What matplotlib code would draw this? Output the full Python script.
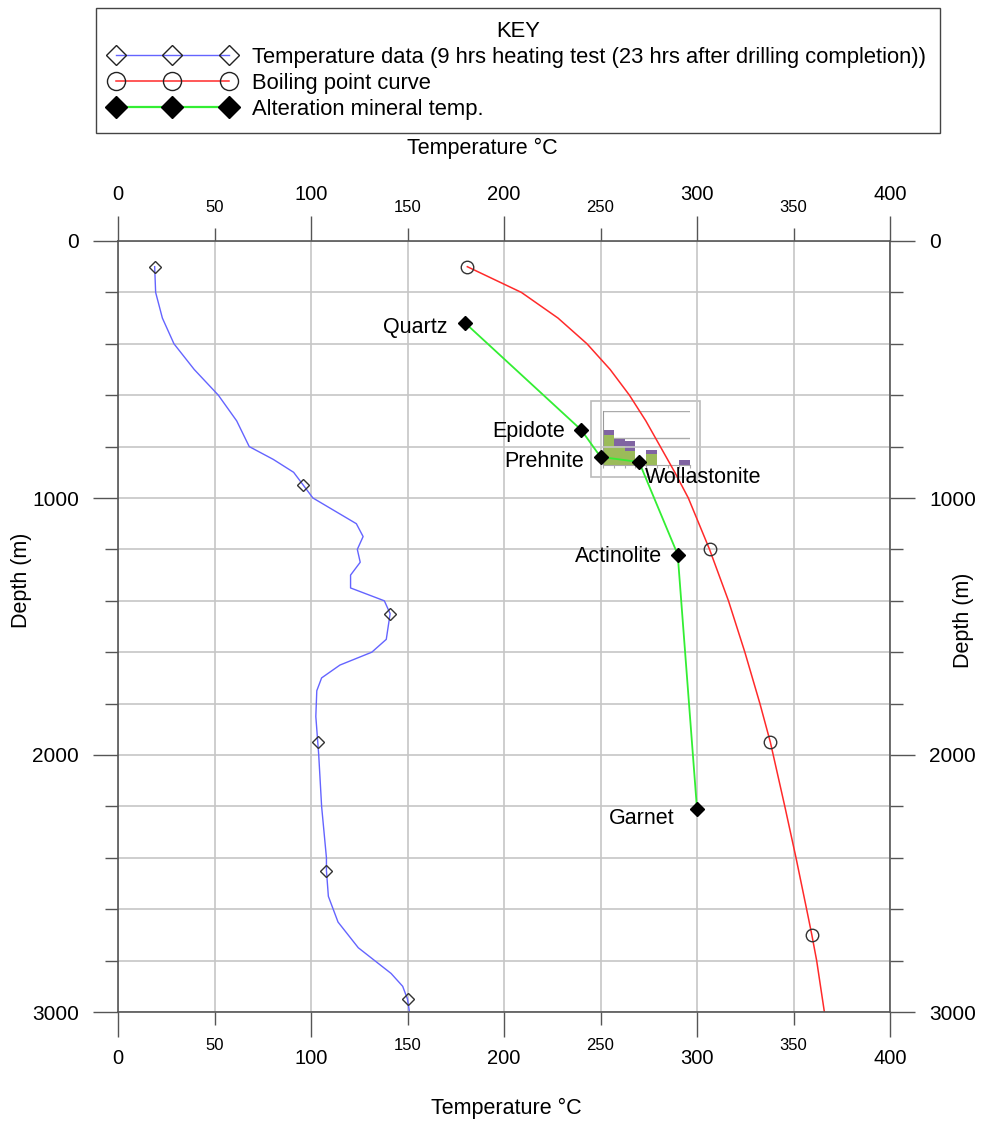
import matplotlib
matplotlib.use('Agg')
import numpy as np
import matplotlib.pyplot as plt
from matplotlib.ticker import MultipleLocator, FormatStrFormatter
from matplotlib.lines import Line2D
from matplotlib.patches import Rectangle

plt.rcParams['font.family'] = ['Liberation Sans', 'DejaVu Sans']

# temperature log, 9 hrs heating test
temp_depth = [100, 200, 300, 400, 500, 600, 700, 800, 850, 900, 950, 1000, 1100, 1150,
              1200, 1250, 1300, 1350, 1400, 1450, 1550, 1600, 1650, 1700, 1750, 1850,
              1950, 2000, 2200, 2400, 2450, 2550, 2650, 2750, 2800, 2850, 2900, 2950, 3000]
temp_vals = [19, 19.5, 23, 29, 39.5, 52, 61.5, 68, 80.5, 91, 96, 101, 123.5, 127,
             124, 125.5, 120.5, 120.5, 138, 141, 139, 131.5, 115, 105.5, 103, 102.5,
             103.5, 104, 105.5, 108, 108, 109, 114, 124.5, 133, 141.5, 147.5, 150, 151]
temp_marks = [0, 10, 19, 26, 30, 37]

# boiling point curve
bpd_depth = [100, 200, 300, 400, 500, 600, 700, 800, 900, 1000, 1200, 1400, 1600, 1800,
             1950, 2200, 2400, 2600, 2700, 2800, 3000]
bpd_vals = [181, 209, 228, 243, 255, 265, 273.5, 281, 288.5, 295.5, 306.5, 316.3, 324.8,
            332.6, 338, 345.5, 351.3, 356.8, 359.5, 362, 366]
bpd_marks = [0, 10, 14, 18]

# alteration minerals
minerals = ['Quartz', 'Epidote', 'Prehnite', 'Wollastonite', 'Actinolite', 'Garnet']
mineral_temp = [180, 240, 250, 270, 290, 300]
mineral_depth = [320, 735, 840, 860, 1220, 2210]
label_offset = [(-13, -3), (-12, -1.5), (-12, -3.5), (4, -11.5), (-11, -1.5), (-16, -7)]
label_ha = ['right', 'right', 'right', 'left', 'right', 'right']

# little histogram pasted in the middle
hist_green = [11, 7, 5, 0, 4, 0, 0, 0]
hist_purple = [2, 2.5, 4, 0, 1.5, 0, 0, 2]

W, H = 981, 1122
fig = plt.figure(figsize=(W / 100, H / 100), dpi=100)
fig.patch.set_facecolor('white')
ax = fig.add_axes([118 / W, 1 - 1012 / H, 772 / W, 771 / H])
ax.patch.set_alpha(0)
ax.set_zorder(2)

lbl_temp = 'Temperature data (9 hrs heating test (23 hrs after drilling completion))'
ax.plot(temp_vals, temp_depth, color='#6464ff', lw=1, marker='D', ms=6, mfc='none',
        mec='#333333', mew=1, markevery=temp_marks)
ax.plot(bpd_vals, bpd_depth, color='#ff2a2a', lw=1.1, marker='o', ms=9, mfc='none',
        mec='#333333', mew=1, markevery=bpd_marks)
ax.plot(mineral_temp, mineral_depth, color='#33ee33', lw=1.3, marker='D', ms=7,
        mfc='black', mec='black')

for name, t, d, off, ha in zip(minerals, mineral_temp, mineral_depth, label_offset, label_ha):
    ax.annotate(name, (t, d), xytext=off, textcoords='offset points', ha=ha, va='center',
                fontsize=15.5)

ax.set_xlim(0, 400)
ax.set_ylim(3000, 0)
ax.xaxis.set_major_locator(MultipleLocator(100))
ax.xaxis.set_minor_locator(MultipleLocator(50))
ax.xaxis.set_minor_formatter(FormatStrFormatter('%d'))
ax.yaxis.set_major_locator(MultipleLocator(1000))
ax.yaxis.set_minor_locator(MultipleLocator(200))

ax.tick_params(which='both', direction='out', top=True, right=True, labeltop=True,
               labelright=True, color='#555555', width=1)
ax.tick_params(which='major', length=18)
ax.tick_params(which='minor', length=9.4)
ax.tick_params(axis='x', which='major', labelsize=14.5, pad=9)
ax.tick_params(axis='x', which='minor', labelsize=12, pad=9)
ax.tick_params(axis='y', which='major', labelsize=15, pad=10)
ax.grid(which='both', color='#c6c6c6', lw=1.2)
for s in ax.spines.values():
    s.set_color('#555555')
    s.set_linewidth(1.2)

fig.text(482 / W, 1 - 148 / H, 'Temperature °C', ha='center', va='center', fontsize=15.5)
fig.text(506 / W, 1 - 1108 / H, 'Temperature °C', ha='center', va='center', fontsize=15.5)
fig.text(22 / W, 1 - 580 / H, 'Depth (m)', ha='center', va='center', rotation=90, fontsize=15.5)
fig.text(963 / W, 1 - 620 / H, 'Depth (m)', ha='center', va='center', rotation=90, fontsize=15.5)

# inset histogram
fig.add_artist(Rectangle((590.7 / W, 1 - 476.7 / H), 109 / W, 75.7 / H, fill=False,
                         edgecolor='#bbbbbb', lw=1.2, transform=fig.transFigure))
ins = fig.add_axes([602.7 / W, 1 - 465 / H, 87.3 / W, 54.3 / H])
ins.set_zorder(1)
ins.patch.set_alpha(0)
xb = np.arange(len(hist_green))
ins.bar(xb, hist_green, width=1, align='edge', color='#9bbb59')
ins.bar(xb, hist_purple, width=1, align='edge', bottom=hist_green, color='#8064a2')
ins.set_xlim(0, 8)
ins.set_ylim(0, 20)
ins.set_xticks(range(9))
ins.set_xticklabels([])
ins.set_yticks([])
ins.tick_params(axis='x', length=2.5, color='#aaaaaa')
for y in [10, 20]:
    ins.axhline(y, color='#aaaaaa', lw=1, zorder=0)
ins.spines['top'].set_visible(False)
ins.spines['right'].set_visible(False)
ins.spines['left'].set_color('#999999')
ins.spines['bottom'].set_color('#aaaaaa')

handles = [
    Line2D([], [], color='#6464ff', lw=1, marker='D', ms=10, mfc='none', mec='#222222', mew=1),
    Line2D([], [], color='#ff2a2a', lw=1.1, marker='o', ms=13, mfc='none', mec='#222222', mew=1),
    Line2D([], [], color='#33ee33', lw=1.6, marker='D', ms=11, mfc='black', mec='black'),
]
labels = [lbl_temp, 'Boiling point curve', 'Alteration mineral temp.']
leg = fig.legend(handles, labels, loc='upper left', bbox_to_anchor=(96 / W, 1 - 8 / H),
                 bbox_transform=fig.transFigure, title='KEY', numpoints=3, handlelength=5.75,
                 handletextpad=0.78, fontsize=15.8, title_fontsize=15.8, fancybox=False,
                 edgecolor='#444444', framealpha=1, borderaxespad=0, labelspacing=0.22,
                 borderpad=0.6)
leg.get_frame().set_linewidth(1)

fig.savefig('out.png', dpi=100)
